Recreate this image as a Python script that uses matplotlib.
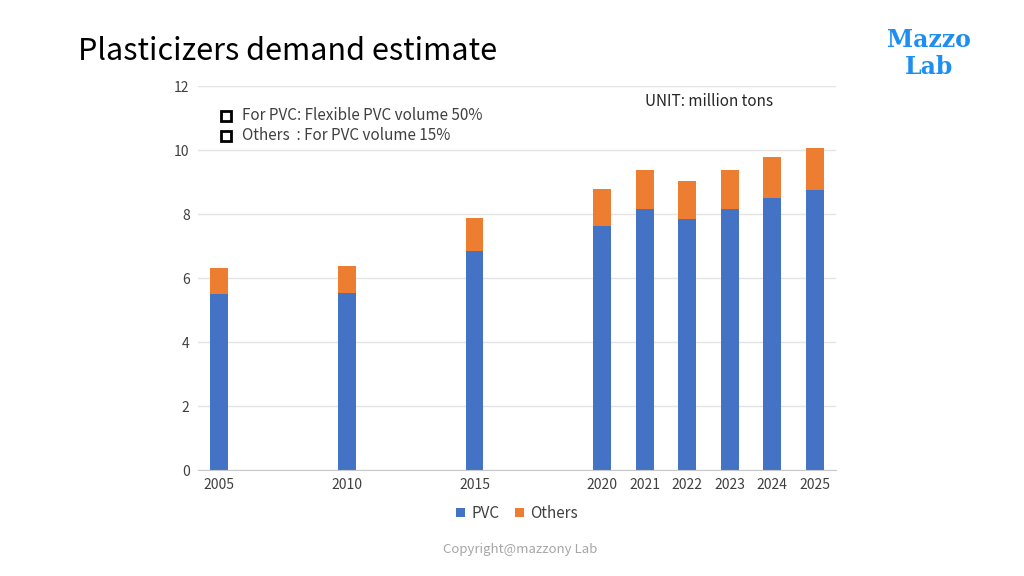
import matplotlib.pyplot as plt
import numpy as np

plt.rcParams['font.family'] = ['Noto Sans CJK JP', 'DejaVu Sans']

years = ["2005", "", "", "2010", "", "", "2015", "", "", "2020", "2021", "2022", "2023", "2024", "2025"]
pvc = [5.49, 0, 0, 5.54, 0, 0, 6.84, 0, 0, 7.64, 8.15, 7.84, 8.15, 8.49, 8.74]
others = [0.81, 0, 0, 0.83, 0, 0, 1.03, 0, 0, 1.14, 1.23, 1.20, 1.23, 1.30, 1.32]

blue = "#4472C4"
orange = "#ED7D31"

fig = plt.figure(figsize=(10.24, 5.76), dpi=100)
ax = fig.add_axes([198 / 1024, 1 - 470 / 576, 638 / 1024, 384 / 576])

x = np.arange(len(years))
ax.bar(x, pvc, width=0.42, color=blue, label="PVC")
ax.bar(x, others, width=0.42, bottom=pvc, color=orange, label="Others")

ax.set_xlim(-0.5, len(years) - 0.5)
ax.set_ylim(0, 12)
ax.set_yticks(range(0, 13, 2))
ax.set_xticks(x)
ax.set_xticklabels(years)
ax.tick_params(length=0, labelsize=10, colors="#404040", pad=6)
ax.grid(axis="y", color="#E4E4E4", linewidth=1)
ax.set_axisbelow(True)
for s in ["top", "right", "left"]:
    ax.spines[s].set_visible(False)
ax.spines["bottom"].set_color("#C8C8C8")

ax.legend(loc="upper center", bbox_to_anchor=(0.5, -0.055), ncol=2, frameon=False,
          fontsize=11, handlelength=0.6, handleheight=0.6, columnspacing=1.0,
          handletextpad=0.4, labelcolor="#404040")

# notes
for yy, txt in [(116, "For PVC: Flexible PVC volume 50%"), (136, "Others  : For PVC volume 15%")]:
    fig.lines.append(plt.Line2D([226 / 1024], [1 - yy / 576], marker="s", markersize=7,
                                markerfacecolor="white", markeredgecolor="black",
                                markeredgewidth=2, transform=fig.transFigure))
    fig.text(242 / 1024, 1 - yy / 576, txt, fontsize=11, va="center", color="#404040")

fig.text(645 / 1024, 1 - 101 / 576, "UNIT: million tons", fontsize=11, va="center", color="#262626")

fig.text(78 / 1024, 1 - 52 / 576, "Plasticizers demand estimate", fontsize=22, va="center", color="black")
fig.text(929 / 1024, 1 - 40 / 576, "Mazzo", fontsize=17, fontweight="bold", family="DejaVu Serif",
         ha="center", va="center", color="#1E8FF0")
fig.text(929 / 1024, 1 - 67 / 576, "Lab", fontsize=17, fontweight="bold", family="DejaVu Serif",
         ha="center", va="center", color="#1E8FF0")
fig.text(520 / 1024, 1 - 550 / 576, "Copyright@mazzony Lab", fontsize=9.5, ha="center", va="center",
         color="#A6A6A6")

fig.savefig("out.png", dpi=100)
